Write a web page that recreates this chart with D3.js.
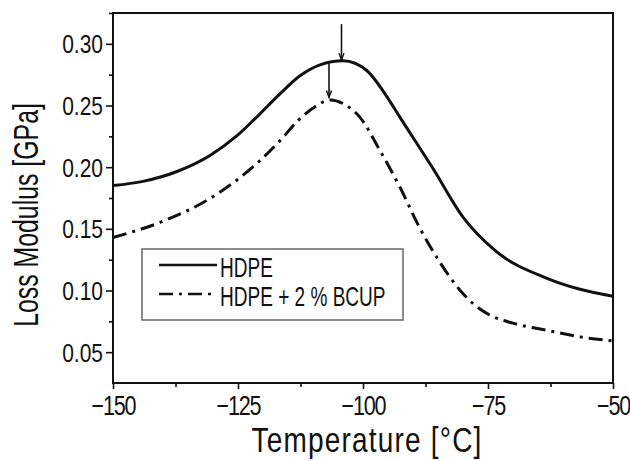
<!DOCTYPE html>
<html>
<head>
<meta charset="utf-8">
<script src="https://cdn.jsdelivr.net/npm/d3@7"></script>
<style>
  html, body { margin: 0; padding: 0; background: #fff; }
  svg text { font-family: "Liberation Sans", Arial, sans-serif; fill: #111; }
</style>
</head>
<body>
<svg id="chart" width="630" height="461"></svg>
<script>
// Loss modulus vs temperature (DMA), HDPE and HDPE + 2 % BCUP
const hdpeTemp = [-150, -144, -137.2, -130.6, -125.2, -122, -116.6, -112.6, -108.6, -104, -99.2, -95.6, -92.6, -86, -80, -73.6, -63.2, -56.6, -50];
const hdpeLoss = [0.1851, 0.1885, 0.1965, 0.2095, 0.2255, 0.2377, 0.2595, 0.2741, 0.2830, 0.2862, 0.2782, 0.2595, 0.2404, 0.1989, 0.1595, 0.1325, 0.1099, 0.1010, 0.0953];

const bcupTemp = [-150, -140.6, -130.6, -125.6, -120.6, -116.6, -113, -109.6, -106.6, -103.6, -100.6, -96.6, -92.6, -88.6, -84.6, -80.6, -77.6, -74.6, -70, -63.3, -56.6, -50];
const bcupLoss = [0.1430, 0.1552, 0.1746, 0.1884, 0.2053, 0.2215, 0.2377, 0.2490, 0.2545, 0.2507, 0.2404, 0.2134, 0.1837, 0.1503, 0.1228, 0.1002, 0.0880, 0.0800, 0.0735, 0.0678, 0.0624, 0.0591];

const seriesNames = ["HDPE", "HDPE + 2 % BCUP"];
const xTicks = [-150, -125, -100, -75, -50];
const yTicks = [0.05, 0.10, 0.15, 0.20, 0.25, 0.30];
// temperatures of the two loss-modulus maxima, marked with arrows
const peakTemps = [-104.3, -106.8];

const W = 630, H = 461;
const margin = {left: 113, top: 13, right: 17, bottom: 78};
const iw = W - margin.left - margin.right;
const ih = H - margin.top - margin.bottom;

const svg = d3.select("#chart");
const g = svg.append("g").attr("transform", `translate(${margin.left},${margin.top})`);

const x = d3.scaleLinear().domain([-150, -50]).range([0, iw]);
const y = d3.scaleLinear().domain([0.025, 0.325]).range([ih, 0]);

// minor ticks halfway between the labelled ones
const xMinor = d3.range(-137.5, -50, 25);
const yMinor = d3.range(0.075, 0.326, 0.05).map(v => +v.toFixed(3));

const xAxis = g.append("g").attr("transform", `translate(0,${ih})`)
  .call(d3.axisBottom(x).tickValues(xTicks).tickFormat("").tickSize(6));
g.append("g").attr("transform", `translate(0,${ih})`)
  .call(d3.axisBottom(x).tickValues(xMinor).tickFormat("").tickSize(4));

const yAxis = g.append("g")
  .call(d3.axisLeft(y).tickValues(yTicks).tickFormat("").tickSize(7));
g.append("g")
  .call(d3.axisLeft(y).tickValues(yMinor).tickFormat("").tickSize(4));

g.selectAll(".tick line").attr("stroke", "#111").attr("stroke-width", 1.6);
g.selectAll(".domain").remove();

// condensed tick labels (horizontal squeeze of a regular face)
const xs = 0.8;
xAxis.selectAll(".tick").append("text")
  .attr("transform", `scale(${xs},1)`)
  .attr("y", 32).attr("text-anchor", "middle").attr("font-size", 27)
  .attr("letter-spacing", -1.5)
  .text(d => (d < 0 ? "\u2212" + Math.abs(d) : String(d)));
const ys = 0.84;
yAxis.selectAll(".tick").append("text")
  .attr("transform", `scale(${ys},1)`)
  .attr("x", -10 / ys).attr("dy", "0.36em").attr("text-anchor", "end").attr("font-size", 25)
  .text(d3.format(".2f"));

// frame
g.append("rect").attr("x", 0).attr("y", 0).attr("width", iw).attr("height", ih)
  .attr("fill", "none").attr("stroke", "#111").attr("stroke-width", 2);

// curves
const line = d3.line().x(d => x(d[0])).y(d => y(d[1])).curve(d3.curveMonotoneX);
const hdpe = hdpeTemp.map((t, i) => [t, hdpeLoss[i]]);
const bcup = bcupTemp.map((t, i) => [t, bcupLoss[i]]);
const dashDot = "14,6,3,6";

g.append("path").datum(hdpe).attr("d", line)
  .attr("fill", "none").attr("stroke", "#111").attr("stroke-width", 3);
g.append("path").datum(bcup).attr("d", line)
  .attr("fill", "none").attr("stroke", "#111").attr("stroke-width", 3)
  .attr("stroke-dasharray", dashDot);

// peak arrows
const interp = (ts, vs, t) => {
  const i = d3.bisectLeft(ts, t);
  if (ts[i] === t) return vs[i];
  const f = (t - ts[i - 1]) / (ts[i] - ts[i - 1]);
  return vs[i - 1] + f * (vs[i] - vs[i - 1]);
};
function arrow(px, y0, y1) {
  g.append("line").attr("x1", px).attr("x2", px).attr("y1", y0).attr("y2", y1)
    .attr("stroke", "#111").attr("stroke-width", 1.6);
  g.append("path")
    .attr("d", `M${px - 2.5},${y1 - 7} L${px},${y1} L${px + 2.5},${y1 - 7}`)
    .attr("fill", "none").attr("stroke", "#111").attr("stroke-width", 1.4);
}
const hdpeAtPeak = interp(hdpeTemp, hdpeLoss, peakTemps[0]);
arrow(x(peakTemps[0]), y(hdpeAtPeak) - 37, y(hdpeAtPeak) - 1);
const hdpeAbove = interp(hdpeTemp, hdpeLoss, peakTemps[1]);
const bcupAtPeak = interp(bcupTemp, bcupLoss, peakTemps[1]);
arrow(x(peakTemps[1]), y(hdpeAbove), y(bcupAtPeak) - 3);

// legend
const lg = svg.append("g").attr("transform", "translate(142,249)");
lg.append("rect").attr("width", 261).attr("height", 71)
  .attr("fill", "#fff").attr("stroke", "#666").attr("stroke-width", 1.5);
const dashes = [null, dashDot];
const ls = 0.68;
seriesNames.forEach((name, i) => {
  const ly = 16 + i * 29;
  lg.append("line").attr("x1", 17).attr("x2", 75).attr("y1", ly).attr("y2", ly)
    .attr("stroke", "#111").attr("stroke-width", 2.5)
    .attr("stroke-dasharray", dashes[i]);
  lg.append("text").attr("transform", `translate(78,${ly + 12}) scale(${ls},1)`)
    .attr("font-size", 28).text(name);
});

// axis titles
svg.append("text").attr("transform", `translate(367,452) scale(0.8,1)`)
  .attr("text-anchor", "middle").attr("font-size", 35).attr("letter-spacing", 1.5)
  .text("Temperature [\u00B0C]");
svg.append("text").attr("transform", `translate(38,215) rotate(-90) scale(0.71,1)`)
  .attr("text-anchor", "middle").attr("font-size", 35)
  .text("Loss Modulus [GPa]");
</script>
</body>
</html>
